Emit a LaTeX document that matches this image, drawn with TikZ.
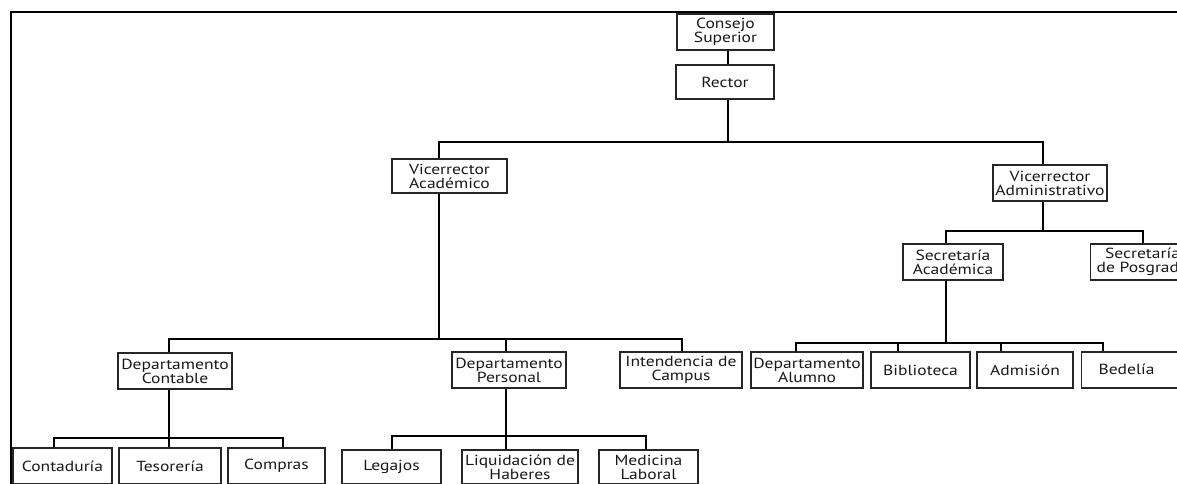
\documentclass[tikz,border=0pt]{standalone}
\usepackage{fontspec}
\setmainfont{PT Sans}[FakeStretch=1.2]
\begin{document}
\begin{tikzpicture}[x=1pt,y=-1pt,
  box/.style={draw=black!85, line width=1.1pt, fill=white, align=center, inner sep=0pt,
    font=\fontsize{14.6}{14}\selectfont, text=black!90},
  conn/.style={line width=2pt, black},
  frame/.style={line width=2pt, black}]
\useasboundingbox (0,0) rectangle (1177,484);
\draw[frame] (11,484) -- (11,12) -- (1177,12);
% nodes
\node[box, minimum width=97, minimum height=36] (cs) at (725.5,32) {Consejo\\Superior};
\node[box, minimum width=98, minimum height=34] (rec) at (725,82) {Rector};
\node[box, minimum width=115, minimum height=34] (va) at (449.5,176) {Vicerrector\\Académico};
\node[box, minimum width=114, minimum height=36] (vad) at (1050,183) {Vicerrector\\Administrativo};
\node[box, minimum width=100, minimum height=36] (sa) at (953,262) {Secretaría\\Académica};
\node[box, minimum width=104, minimum height=36, anchor=west] (sp) at (1090,262) {Secretaría\\de Posgrado};
\node[box, minimum width=112, minimum height=36] (da) at (807,370) {Departamento\\Alumno};
\node[box, minimum width=99, minimum height=36] (bib) at (920.5,370) {Biblioteca};
\node[box, minimum width=96, minimum height=36] (adm) at (1025,370) {Admisión};
\node[box, minimum width=96, minimum height=36, anchor=west] (bed) at (1081,370) {\hspace*{-6pt}\raisebox{2pt}{Bedelía}};
\node[box, minimum width=114, minimum height=36] (dc) at (175,371) {Departamento\\Contable};
\node[box, minimum width=114, minimum height=36] (dp) at (509,370) {Departamento\\Personal};
\node[box, minimum width=122, minimum height=36] (ic) at (681,370) {Intendencia de\\Campus};
\node[box, minimum width=99, minimum height=36] (cont) at (62.5,466) {Contaduría};
\node[box, minimum width=102, minimum height=36] (tes) at (170,466) {Tesorería};
\node[box, minimum width=97, minimum height=36] (com) at (276.5,466) {Compras};
\node[box, minimum width=99, minimum height=34] (leg) at (391.5,467) {Legajos};
\node[box, minimum width=116, minimum height=34] (liq) at (520,467) {Liquidación de\\Haberes};
\node[box, minimum width=99, minimum height=34] (med) at (648.5,467) {Medicina\\Laboral};
% connectors
\draw[conn] (cs.south -| 728,0) -- (rec.north -| 728,0);
\draw[conn] (rec.south -| 728,0) -- (728,142);
\draw[conn] (va.north -| 439,0) |- (1043,142) -- (vad.north -| 1043,0);
\draw[conn] (va.south -| 439,0) -- (439,339);
\draw[conn] (dc.north -| 169,0) |- (682,339) -- (ic.north -| 682,0);
\draw[conn] (dp.north -| 506,0) -- (506,339);
\draw[conn] (vad.south -| 1043,0) -- (1043,231);
\draw[conn] (sa.north -| 946,0) |- (1143,231) -- (sp.north -| 1143,0);
\draw[conn] (sa.south -| 946,0) -- (946,343);
\draw[conn] (da.north -| 796,0) |- (1103,343) -- (bed.north -| 1103,0);
\draw[conn] (bib.north -| 898,0) -- (898,343);
\draw[conn] (adm.north -| 1001,0) -- (1001,343);
\draw[conn] (dc.south -| 169,0) -- (169,438);
\draw[conn] (cont.north -| 54,0) |- (283,438) -- (com.north -| 283,0);
\draw[conn] (tes.north -| 169,0) -- (169,438);
\draw[conn] (dp.south -| 506,0) -- (506,436);
\draw[conn] (leg.north -| 392,0) |- (646,436) -- (med.north -| 646,0);
\draw[conn] (liq.north -| 506,0) -- (506,436);
\end{tikzpicture}
\end{document}
